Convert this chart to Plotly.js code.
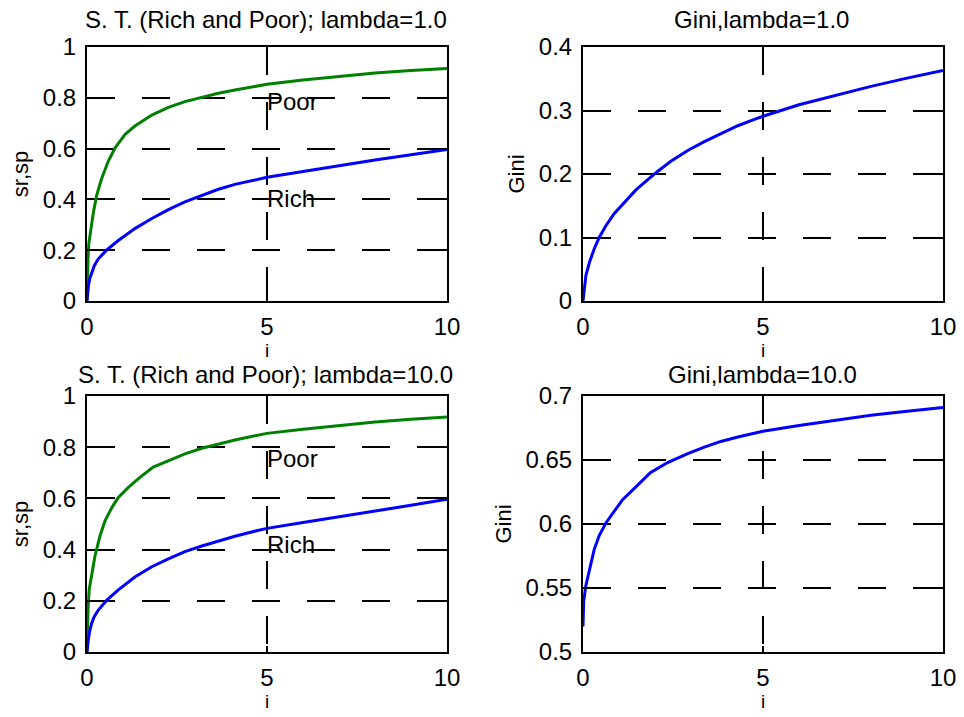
<!DOCTYPE html>
<html>
<head>
<meta charset="utf-8">
<script src="https://cdn.plot.ly/plotly-3.0.1.min.js"></script>
<style>html,body{margin:0;padding:0;background:#fff;}#chart{width:964px;height:717px;}</style>
</head>
<body>
<div id="chart"></div>
<script>
// ---- Data ----
// Top-left: S. T. (Rich and Poor); lambda=1.0
var tlPoorX = [0, 0.01, 0.03, 0.05, 0.08, 0.12, 0.18, 0.27, 0.41, 0.59, 0.78, 1.06, 1.33, 1.8, 2.26, 2.72, 3.19, 3.65, 4.11, 4.57, 5, 6, 7, 8, 9, 10];
var tlPoorY = [0, 0.10, 0.17, 0.225, 0.258, 0.30, 0.351, 0.417, 0.483, 0.55, 0.603, 0.656, 0.689, 0.732, 0.762, 0.785, 0.803, 0.818, 0.831, 0.843, 0.853, 0.870, 0.885, 0.898, 0.907, 0.915];
var tlRichX = [0, 0.01, 0.04, 0.08, 0.13, 0.2, 0.31, 0.55, 0.87, 1.33, 1.8, 2.26, 2.72, 3.19, 3.65, 4.11, 4.57, 5, 6, 7, 8, 9, 10];
var tlRichY = [0, 0.03, 0.06, 0.09, 0.113, 0.138, 0.165, 0.201, 0.238, 0.285, 0.325, 0.36, 0.39, 0.416, 0.44, 0.459, 0.475, 0.487, 0.51, 0.533, 0.555, 0.576, 0.597];
// Bottom-left: S. T. (Rich and Poor); lambda=10.0
var blPoorX = [0, 0.01, 0.03, 0.06, 0.13, 0.22, 0.36, 0.5, 0.69, 0.87, 1.15, 1.47, 1.84, 2.26, 2.72, 3.19, 3.65, 4.11, 4.57, 5, 6, 7, 8, 9, 10];
var blPoorY = [0, 0.10, 0.17, 0.243, 0.308, 0.374, 0.453, 0.512, 0.564, 0.604, 0.643, 0.682, 0.722, 0.748, 0.774, 0.796, 0.813, 0.828, 0.842, 0.854, 0.87, 0.885, 0.898, 0.909, 0.918];
var blRichX = [0, 0.01, 0.04, 0.08, 0.13, 0.2, 0.31, 0.55, 0.87, 1.33, 1.8, 2.26, 2.72, 3.19, 3.65, 4.11, 4.57, 5, 6, 7, 8, 9, 10];
var blRichY = [0, 0.025, 0.052, 0.085, 0.112, 0.138, 0.163, 0.203, 0.243, 0.293, 0.333, 0.364, 0.392, 0.414, 0.434, 0.452, 0.469, 0.483, 0.506, 0.528, 0.551, 0.573, 0.597];
// Top-right: Gini, lambda=1.0
var trGiniX = [0, 0.02, 0.08, 0.18, 0.31, 0.45, 0.64, 0.87, 1.15, 1.47, 1.8, 2.07, 2.44, 2.91, 3.37, 3.83, 4.3, 4.76, 5, 6, 7, 8, 9, 10];
var trGiniY = [0, 0.013, 0.04, 0.061, 0.082, 0.1, 0.119, 0.138, 0.156, 0.175, 0.191, 0.204, 0.22, 0.237, 0.251, 0.264, 0.276, 0.286, 0.291, 0.309, 0.324, 0.338, 0.351, 0.363];
// Bottom-right: Gini, lambda=10.0
var brGiniX = [0, 0, 0.02, 0.08, 0.18, 0.31, 0.45, 0.64, 0.87, 1.1, 1.47, 1.87, 2.35, 2.91, 3.37, 3.83, 4.3, 5, 6, 7, 8, 9, 10];
var brGiniY = [0.52, 0.537, 0.54, 0.552, 0.565, 0.58, 0.591, 0.601, 0.61, 0.619, 0.629, 0.64, 0.648, 0.655, 0.66, 0.6645, 0.668, 0.6725, 0.677, 0.681, 0.685, 0.688, 0.691];

// Tick labels
var xTickVals = [0, 5, 10];
var xTickText = ['0', '5', '10'];
var stTickVals = [0, 0.2, 0.4, 0.6, 0.8, 1];
var stTickText = ['0', '0.2', '0.4', '0.6', '0.8', '1'];
var g1TickVals = [0, 0.1, 0.2, 0.3, 0.4];
var g1TickText = ['0', '0.1', '0.2', '0.3', '0.4'];
var g10TickVals = [0.5, 0.55, 0.6, 0.65, 0.7];
var g10TickText = ['0.5', '0.55', '0.6', '0.65', '0.7'];

// Titles and labels
var titles = ['S. T. (Rich and Poor); lambda=1.0', 'Gini,lambda=1.0', 'S. T. (Rich and Poor); lambda=10.0', 'Gini,lambda=10.0'];
var curveLabels = ['Poor', 'Rich'];

// ---- Styling ----
var FONT = 'Liberation Sans, Arial, Helvetica, sans-serif';
var GREEN = '#008000', BLUE = '#0000ff';

function line(x, y, color, xa, ya) {
  return {x: x, y: y, type: 'scatter', mode: 'lines', xaxis: xa, yaxis: ya,
    line: {color: color, width: 3}, hoverinfo: 'x+y', showlegend: false};
}

var traces = [
  line(tlPoorX, tlPoorY, GREEN, 'x', 'y'),
  line(tlRichX, tlRichY, BLUE, 'x', 'y'),
  line(trGiniX, trGiniY, BLUE, 'x2', 'y2'),
  line(blPoorX, blPoorY, GREEN, 'x3', 'y3'),
  line(blRichX, blRichY, BLUE, 'x3', 'y3'),
  line(brGiniX, brGiniY, BLUE, 'x4', 'y4')
];

function axisBase() {
  return {
    showline: true, linecolor: '#000', linewidth: 2, mirror: 'ticks',
    ticks: 'inside', ticklen: 6, tickwidth: 2, tickcolor: '#000',
    showgrid: true, gridcolor: '#000', gridwidth: 2, griddash: '28px,27px',
    zeroline: false, fixedrange: true,
    tickfont: {family: FONT, size: 24, color: '#000'}
  };
}
function xAxis(domain, anchor) {
  var a = axisBase();
  a.domain = domain; a.anchor = anchor; a.range = [0, 10];
  a.tickmode = 'array'; a.tickvals = xTickVals; a.ticktext = xTickText;
  a.ticklabelstandoff = 3;
  a.title = {text: 'i', font: {family: FONT, size: 19, color: '#000'}, standoff: 0};
  return a;
}
function yAxis(domain, anchor, range, vals, text, label) {
  var a = axisBase();
  a.domain = domain; a.anchor = anchor; a.range = range;
  a.tickmode = 'array'; a.tickvals = vals; a.ticktext = text;
  a.ticklabelstandoff = 4;
  a.title = {text: label, font: {family: FONT, size: 22, color: '#000'}, standoff: 8};
  return a;
}

var xL = [87/964, 447/964], xR = [583/964, 943/964];
var yT = [1 - 301/717, 1 - 47/717], yB = [1 - 652/717, 1 - 396/717];

var textFont = {family: FONT, size: 24, color: '#000'};
function titleAnn(text, x, y) {
  return {text: text, xref: 'paper', yref: 'paper', x: x, y: y, xanchor: 'center', yanchor: 'middle',
    showarrow: false, font: textFont};
}
function dataAnn(text, x, y, xa, ya) {
  return {text: text, xref: xa, yref: ya, x: x, y: y, xanchor: 'left', yanchor: 'middle',
    showarrow: false, font: textFont, xshift: -2};
}

var layout = {
  width: 964, height: 717,
  margin: {l: 0, r: 0, t: 0, b: 0},
  paper_bgcolor: '#fff', plot_bgcolor: '#fff',
  showlegend: false,
  font: {family: FONT, color: '#000'},
  xaxis: xAxis(xL, 'y'),
  yaxis: yAxis(yT, 'x', [0, 1], stTickVals, stTickText, 'sr,sp'),
  xaxis2: xAxis(xR, 'y2'),
  yaxis2: yAxis(yT, 'x2', [0, 0.4], g1TickVals, g1TickText, 'Gini'),
  xaxis3: xAxis(xL, 'y3'),
  yaxis3: yAxis(yB, 'x3', [0, 1], stTickVals, stTickText, 'sr,sp'),
  xaxis4: xAxis(xR, 'y4'),
  yaxis4: yAxis(yB, 'x4', [0.5, 0.7], g10TickVals, g10TickText, 'Gini'),
  annotations: [
    titleAnn(titles[0], 266/964, 1 - 20/717),
    titleAnn(titles[1], 761/964, 1 - 20/717),
    titleAnn(titles[2], 265/964, 1 - 374/717),
    titleAnn(titles[3], 762/964, 1 - 374/717),
    dataAnn(curveLabels[0], 5, 0.785, 'x', 'y'),
    dataAnn(curveLabels[1], 5, 0.405, 'x', 'y'),
    dataAnn(curveLabels[0], 5, 0.755, 'x3', 'y3'),
    dataAnn(curveLabels[1], 5, 0.418, 'x3', 'y3')
  ]
};

Plotly.newPlot('chart', traces, layout, {displayModeBar: false, staticPlot: true});
</script>
</body>
</html>
